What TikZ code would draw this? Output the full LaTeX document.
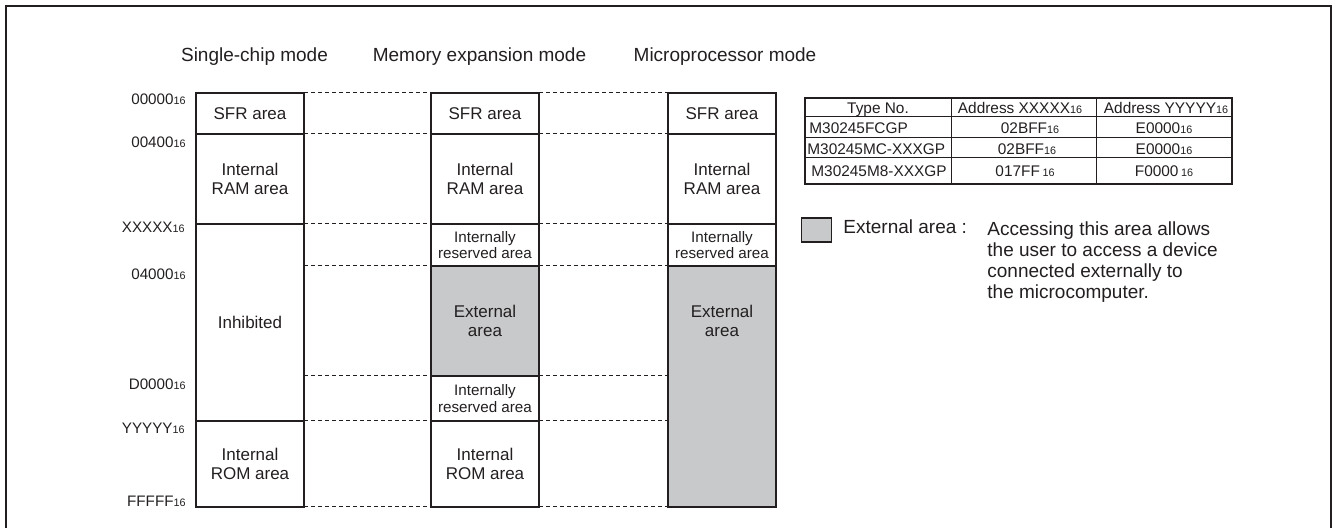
\documentclass[tikz,border=0pt]{standalone}
\usepackage{fontspec}
\setmainfont{Liberation Sans}
\usetikzlibrary{positioning}
\definecolor{ink}{RGB}{35,31,32}
\definecolor{extgray}{RGB}{200,201,203}
\newcommand{\hexval}[1]{#1{\fontsize{5.4}{6}\selectfont 16}}

\begin{document}
\begin{tikzpicture}[x=0.5pt, y=-0.5pt, color=ink, node distance=0pt,
    blk/.style={draw=ink, line width=0.75pt, outer sep=0pt, inner sep=0pt, minimum width=54pt, align=center, font=\fontsize{8.5}{9.7}\selectfont},
    rsvblk/.style={blk, minimum height=21pt, font=\fontsize{7.6}{8.3}\selectfont},
    extblk/.style={blk, fill=extgray},
    bndline/.style={draw=ink, line width=0.5pt, dash pattern=on 2pt off 1.5pt},
    addrlbl/.style={anchor=east, inner sep=0pt, text height=5.4pt, text depth=0pt, font=\fontsize{7.6}{8}\selectfont},
    modetitle/.style={inner sep=0pt, text height=6.8pt, text depth=0pt, font=\fontsize{9.5}{10.5}\selectfont},
    tcell/.style={inner sep=0pt, text height=5.5pt, text depth=0pt, font=\fontsize{7.7}{8}\selectfont}]
    \useasboundingbox (0,0) rectangle (1333,528);
    \draw[line width=1pt] (5.5,528) -- (5.5,6) -- (1331,6) -- (1331,528);

    % mode titles
    \node[modetitle] (single) at (254.5,55) {Single-chip mode};
    \node[modetitle] (memexp) at (479.5,55) {Memory expansion mode};
    \node[modetitle] (micro)  at (725,55)   {Microprocessor mode};

    % single-chip mode
    \node[blk, anchor=north west, minimum height=20.5pt] (sfr 1) at (196,93) {SFR area};
    \node[blk, minimum height=45pt, below=of sfr 1]      (ram 1) {Internal\\RAM area};
    \node[blk, minimum height=98.5pt, below=of ram 1]    (inh 1) {Inhibited};
    \node[blk, minimum height=43pt, below=of inh 1]      (rom 1) {Internal\\ROM area};

    % memory expansion mode
    \node[blk, anchor=north west, minimum height=20.5pt] (sfr 2) at (431,93) {SFR area};
    \node[blk, minimum height=45pt, below=of sfr 2]      (ram 2)  {Internal\\RAM area};
    \node[rsvblk, below=of ram 2]                        (rsv 2a) {Internally\\reserved area};
    \node[extblk, minimum height=55pt, below=of rsv 2a]  (ext 2)  {External\\area};
    \node[rsvblk, minimum height=22.5pt, below=of ext 2] (rsv 2b) {Internally\\reserved area};
    \node[blk, minimum height=43pt, below=of rsv 2b]     (rom 2)  {Internal\\ROM area};

    % microprocessor mode
    \node[blk, anchor=north west, minimum height=20.5pt] (sfr 3) at (668,93) {SFR area};
    \node[blk, minimum height=45pt, below=of sfr 3]      (ram 3) {Internal\\RAM area};
    \node[rsvblk, below=of ram 3]                        (rsv 3) {Internally\\reserved area};
    \node[extblk, minimum height=120.5pt, below=of rsv 3] (ext 3) {};
    \node[align=center, inner sep=0pt, font=\fontsize{8.5}{9.7}\selectfont] (ext 3 txt) at (722,321) {External\\area};

    % addresses
    \node[addrlbl] (adr 1) at (186,99)  {\hexval{00000}};
    \node[addrlbl] (adr 2) at (186,142) {\hexval{00400}};
    \node[addrlbl] (adr 3) at (185,227) {\hexval{XXXXX}};
    \node[addrlbl] (adr 4) at (186,274) {\hexval{04000}};
    \node[addrlbl] (adr 5) at (186,384) {\hexval{D0000}};
    \node[addrlbl] (adr 6) at (185,428) {\hexval{YYYYY}};
    \node[addrlbl] (adr 7) at (186,501) {\hexval{FFFFF}};

    % boundaries between the modes
    \draw[bndline] (sfr 1.north east) -- (sfr 2.north west) (sfr 2.north east) -- (sfr 3.north west);
    \draw[bndline] (ram 1.north east) -- (ram 2.north west) (ram 2.north east) -- (ram 3.north west);
    \draw[bndline] (inh 1.north east) -- (rsv 2a.north west) (rsv 2a.north east) -- (rsv 3.north west);
    \draw[bndline] (ext 2.north west -| inh 1.east) -- (ext 2.north west) (ext 2.north east) -- (ext 3.north west);
    \draw[bndline] (rsv 2b.north west -| inh 1.east) -- (rsv 2b.north west) (rsv 2b.north east) -- (rsv 2b.north east -| ext 3.west);
    \draw[bndline] (rom 1.north east) -- (rom 2.north west) (rom 2.north east) -- (rom 2.north east -| ext 3.west);
    \draw[bndline] (rom 1.south east) -- (rom 2.south west) (rom 2.south east) -- (ext 3.south west);

    % type table
    \draw[line width=0.9pt] (805,98) rectangle (1232,184);
    \foreach \y in {117,138,158} \draw[line width=0.5pt] (805,\y) -- (1232,\y);
    \foreach \x in {951,1096} \draw[line width=0.5pt] (\x,98) -- (\x,184);
    \node[tcell] (hd type) at (878,108)  {Type No.};
    \node[tcell] (hd x)    at (1020,108) {Address \hexval{XXXXX}};
    \node[tcell] (hd y)    at (1166,108) {Address \hexval{YYYYY}};
    \node[tcell, anchor=west] (fc)   at (809,128)  {M30245FCGP};
    \node[tcell]              (fc x) at (1030,128) {\hexval{02BFF}};
    \node[tcell]              (fc y) at (1164,128) {\hexval{E0000}};
    \node[tcell, anchor=west] (mc)   at (807,149)  {M30245MC-XXXGP};
    \node[tcell]              (mc x) at (1027,149) {\hexval{02BFF}};
    \node[tcell]              (mc y) at (1164,149) {\hexval{E0000}};
    \node[tcell, anchor=west] (m8)   at (811,171)  {M30245M8-XXXGP};
    \node[tcell]              (m8 x) at (1025,171) {017FF\,{\fontsize{5.4}{6}\selectfont 16}};
    \node[tcell]              (m8 y) at (1164,171) {F0000\,{\fontsize{5.4}{6}\selectfont 16}};

    % legend
    \node[draw=ink, line width=0.75pt, fill=extgray, minimum width=15pt, minimum height=12pt, inner sep=0pt] (leg box) at (816.7,230) {};
    \node[modetitle, anchor=west] (leg name) at (843,227) {External area :};
    \node[anchor=north west, align=left, inner sep=0pt, font=\fontsize{9.5}{10.5}\selectfont] (leg text) at (987,221)
        {Accessing this area allows\\the user to access a device\\connected externally to\\the microcomputer.};
\end{tikzpicture}
\end{document}
